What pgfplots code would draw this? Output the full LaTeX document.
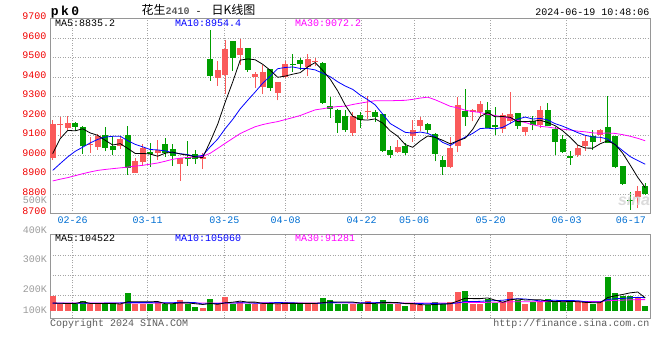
\documentclass[border=0pt]{standalone}
\usepackage{pgfplots}
\pgfplotsset{compat=1.18}
\usepackage{pgfplotstable}
\usepackage{fontspec}
\setmainfont{Liberation Mono}
\newfontfamily\cjk{Noto Sans CJK SC}
\newfontfamily\sansf{Liberation Sans}
\definecolor{cred}{RGB}{250,90,90}
\definecolor{cgreen}{RGB}{0,158,0}
\definecolor{pricered}{RGB}{240,0,0}
\definecolor{dateblue}{RGB}{0,110,210}
\definecolor{gridgray}{RGB}{165,165,165}
\definecolor{boxgray}{RGB}{150,150,150}
\definecolor{labgray}{RGB}{155,155,155}
\definecolor{titlegray}{RGB}{90,90,90}
\definecolor{mablue}{RGB}{0,0,255}
\definecolor{mamag}{RGB}{255,0,255}

% candles: index, open, high, low, close
\pgfplotstableread{
i O H L C
0 8985 9178 8976 9161
1 9152 9195 9092 9158
2 9140 9200 9126 9164
5 9050 9092 9010 9055
6 9041 9109 9027 9096
9 9046 9097 9032 9080
11 8908 8986 8908 8968
12 8964 9058 8944 9036
14 9012 9079 8976 9024
17 8953 8987 8869 8987
20 8978 9008 8928 8992
22 9396 9481 9355 9435
23 9409 9588 9312 9542
25 9515 9593 9464 9551
27 9401 9426 9344 9413
28 9350 9460 9312 9426
30 9319 9372 9280 9372
31 9401 9481 9395 9469
34 9449 9517 9404 9491
35 9478 9500 9455 9483
40 9114 9221 9098 9199
42 9220 9302 9187 9225
46 9016 9076 9011 9042
48 9100 9177 9069 9126
49 9151 9197 9121 9180
53 8936 9091 8932 9035
54 9044 9300 9013 9257
56 9220 9235 9172 9232
57 9223 9279 9197 9262
60 9134 9215 9112 9206
61 9172 9322 9158 9211
63 9120 9145 9100 9143
65 9155 9249 9138 9232
70 9001 9052 8992 9035
71 9047 9098 9021 9074
73 9103 9132 9069 9126
78 8787 8842 8727 8813
}\redT
\pgfplotstableread{
i O H L C
3 9164 9169 9123 9144
4 9144 9148 9007 9046
7 9101 9144 9019 9036
8 9046 9096 8998 9024
10 9101 9149 8899 8933
13 9013 9062 8938 9007
15 9055 9089 8990 9010
16 9031 9057 8946 8997
18 8990 9072 8945 8978
19 9003 9025 8955 8980
21 9491 9639 9380 9406
24 9583 9583 9431 9498
26 9551 9551 9426 9438
29 9440 9440 9329 9344
32 9469 9520 9426 9461
33 9486 9500 9438 9466
36 9473 9478 9264 9268
37 9250 9295 9192 9236
38 9230 9238 9114 9165
39 9199 9233 9119 9127
41 9204 9221 9141 9179
43 9221 9230 9170 9196
44 9209 9212 9016 9020
45 9025 9045 8985 8999
47 9045 9059 8999 9011
50 9160 9162 9112 9129
51 9109 9112 8967 9006
52 8972 8996 8898 8936
55 9226 9339 9151 9197
58 9232 9271 9141 9141
59 9155 9245 9103 9146
62 9215 9217 9132 9151
64 9175 9201 9126 9155
66 9232 9269 9149 9151
67 9134 9146 9001 9069
68 9081 9103 9010 9013
69 8997 9021 8950 8987
72 9100 9129 9026 9066
74 9146 9305 9061 9064
75 9098 9100 8932 8938
76 8944 8946 8847 8852
77 8767 8808 8719 8762
79 8842 8856 8796 8799
}\greenT
% price moving averages: MA5, MA10, MA30
\pgfplotstableread{
i a b c
0 9007 8921 8867
1 9084 8956 8876
2 9126 8990 8884
3 9124 9019 8894
4 9134.4 9040 8904
5 9113.2 9062 8913
6 9101 9080 8921
7 9075.4 9092 8926
8 9051.4 9096 8930
9 9058.2 9096.3 8934
10 9033.8 9073.5 8938
11 9008.2 9054.6 8943
12 9008.2 9041.8 8947
13 9005 9028.2 8953
14 8993.8 9026 8959
15 9009.2 9021.5 8968
16 9015 9011.6 8978
17 9005.2 9006.7 8984
18 8999.2 9002.1 8987
19 8990.4 8992.1 8990
20 8986.8 8998 8993
21 9068.6 9041.8 9009
22 9158.2 9081.7 9034
23 9271 9135.1 9060
24 9374.6 9182.5 9085
25 9486.4 9236.6 9110
26 9492.8 9280.7 9128
27 9488.4 9323.3 9145
28 9465.2 9368.1 9156
29 9434.4 9404.5 9164.3
30 9398.6 9442.5 9171.3
31 9404.8 9448.8 9181.7
32 9414.4 9451.4 9191.6
33 9422.4 9443.8 9202.4
34 9451.8 9443.1 9217.2
35 9474 9436.3 9231.5
36 9433.8 9419.3 9237.2
37 9388.8 9401.6 9243.9
38 9328.6 9375.5 9248.6
39 9255.8 9353.8 9250.1
40 9199 9336.5 9259.0
41 9181.2 9307.5 9266.0
42 9179 9283.9 9272.3
43 9185.2 9256.9 9278.6
44 9163.8 9209.8 9278.5
45 9123.8 9161.4 9278.1
46 9096.4 9138.8 9279.6
47 9053.6 9116.3 9280.4
48 9039.6 9112.4 9285.3
49 9071.6 9117.7 9292.0
50 9097.6 9110.7 9296.6
51 9090.4 9093.4 9283.2
52 9075.4 9064.5 9266.6
53 9057.2 9048.4 9249.7
54 9072.6 9072.1 9241.7
55 9086.2 9091.9 9229.9
56 9131.4 9110.9 9223.0
57 9196.6 9136.0 9218.0
58 9217.8 9137.5 9208.5
59 9195.6 9134.1 9201.9
60 9197.4 9141.8 9196.3
61 9193.2 9162.3 9187.7
62 9171 9183.8 9177.4
63 9171.4 9194.6 9166.6
64 9173.2 9184.4 9155.4
65 9178.4 9187.9 9147.1
66 9166.4 9179.8 9143.2
67 9150 9160.5 9137.6
68 9124 9147.7 9132.5
69 9090.4 9131.8 9127.9
70 9051 9114.7 9122.4
71 9035.6 9101.0 9118.9
72 9035 9092.5 9113.6
73 9057.6 9090.8 9111.3
74 9073 9081.7 9112.7
75 9053.6 9052.3 9110.7
76 9009.2 9022.4 9104.4
77 8948.4 8991.7 9096.1
78 8885.8 8971.7 9085.6
79 8832.8 8952.9 9072.9
}\maT
% volume (thousands)
\pgfplotstableread{
i V
0 120
1 56
2 56
5 56
6 56
9 56
11 56
12 56
14 69
17 88
20 27
22 56
23 112
25 72
27 56
28 60
30 58
31 76
34 56
35 58
40 56
42 80
46 56
48 56
49 48
53 69
54 155
56 56
57 56
60 75
61 155
63 56
65 80
70 69
71 69
73 69
78 102
}\volR
\pgfplotstableread{
i V
3 56
4 80
7 56
8 56
10 144
13 56
15 56
16 56
18 56
19 35
21 96
24 60
26 56
29 56
32 56
33 60
36 104
37 88
38 56
39 56
41 56
43 56
44 88
45 56
47 40
50 48
51 69
52 56
55 160
58 96
59 67
62 88
64 75
66 96
67 69
68 69
69 69
72 56
74 274
75 142
76 120
77 122
79 40
}\volG
\pgfplotstableread{
i a b c
0 64 62 64
1 62 62 64
2 60 62 64
3 60 62 64
4 73.6 62 64
5 60.8 62 64
6 60.8 62 64
7 60.8 63 64
8 60.8 64 64
9 56 64.8 64
10 73.6 67.2 64
11 73.6 67.2 64
12 73.6 67.2 64
13 73.6 67.2 64
14 76.2 66.1 64
15 58.6 66.1 64
16 58.6 66.1 64
17 65 69.3 64
18 65 69.3 64
19 58.2 67.2 64
20 52.4 55.5 64
21 60.4 59.5 64
22 54 59.5 64
23 65.2 65.1 64
24 70.2 64.2 64
25 79.2 65.8 64
26 71.2 65.8 64
27 71.2 62.6 64
28 60.8 63 65
29 60 65.1 65.7
30 57.2 68.2 63.6
31 61.2 66.2 64.3
32 61.2 66.2 64.3
33 61.2 61 64.4
34 61.2 60.6 63.6
35 61.2 59.2 63.7
36 66.8 64 65.3
37 73.2 67.2 66.4
38 72.4 66.8 66.4
39 72.4 66.8 66.4
40 72 66.6 63.4
41 62.4 64.6 63.4
42 60.8 67 64.2
43 60.8 66.6 64.2
44 67.2 69.8 64.9
45 67.2 69.6 64.9
46 67.2 64.8 64.9
47 59.2 60 63.3
48 59.2 60 63.3
49 51.2 59.2 63.7
50 49.6 58.4 64.4
51 52.2 59.7 63.5
52 55.4 57.3 63.5
53 58 58.6 62.1
54 79.4 65.3 65.2
55 101.8 75.7 68.2
56 99.2 75.7 68.2
57 99.2 77.3 68.2
58 104.6 81.3 69.4
59 87 83.2 69.7
60 70 85.9 70.3
61 89.8 94.5 72.9
62 96.2 97.7 74
63 88.2 96.4 73.9
64 89.8 88.4 74.5
65 90.8 80.4 75.2
66 79 84.4 75
67 75.2 85.7 74.3
68 77.8 83 74.8
69 76.6 83.2 75.2
70 74.4 82.6 75.6
71 69 74 76.1
72 66.4 70.8 75.3
73 66.4 72.1 75.7
74 107.4 92 81.9
75 122 98.2 84.8
76 132.2 100.6 86.9
77 145.4 105.9 89.6
78 152 109.2 91.2
79 105.2 106.3 90.9
}\vmaT

\pgfplotsset{
  kbase/.style={
    scale only axis, width=600pt,
    xmin=-0.36, xmax=79.64,
    axis line style={boxgray, line width=1pt},
    major tick length=0pt,
    tick style={draw=none},
    grid style={gridgray, dash pattern=on 1pt off 1.5pt, line width=0.7pt},
    xmajorgrids, ymajorgrids,
    xtick={2.67,12.67,22.9,31.07,41.2,48.2,58.4,68.53},
    ticklabel style={font=\fontsize{10}{12}\selectfont},
  },
  errseg/.style 2 args={draw=none, mark=none, forget plot,
    error bars/.cd, y dir=plus, y explicit, error mark=none,
    error bar style={line width=#2, draw=#1, solid}},
}

\begin{document}
\fontsize{10pt}{12pt}\selectfont
\begin{tikzpicture}
\useasboundingbox (0pt,0pt) rectangle (660pt,360pt);

% ---------- price panel ----------
\begin{axis}[kbase, at={(50pt,146.5pt)}, anchor=south west, height=195pt,
  ymin=8700, ymax=9700,
  ytick={8700,8800,8900,9000,9100,9200,9300,9400,9500,9600,9700},
  yticklabels={8700,8800,8900,9000,9100,9200,9300,9400,9500,9600,9700},
  yticklabel style={pricered, yshift=2pt},
  xticklabels={02-26,03-11,03-25,04-08,04-22,05-06,05-20,06-03},
  xticklabel style={dateblue},
  extra x ticks={77.1}, extra x tick labels={06-17},
  extra x tick style={grid=none, xticklabel style={dateblue}},
]
\addplot[errseg={cred}{1pt}] table[x=i, y=L, y error plus expr=\thisrow{H}-\thisrow{L}] {\redT};
\addplot[errseg={cred}{5.6pt}] table[x=i, y=O, y error plus expr=\thisrow{C}-\thisrow{O}] {\redT};
\addplot[errseg={cgreen}{1pt}] table[x=i, y=L, y error plus expr=\thisrow{H}-\thisrow{L}] {\greenT};
\addplot[errseg={cgreen}{5.6pt}] table[x=i, y=C, y error plus expr=\thisrow{O}-\thisrow{C}] {\greenT};
\addplot[mamag, line width=0.8pt, mark=none] table[x=i, y=c] {\maT};
\addplot[mablue, line width=0.8pt, mark=none] table[x=i, y=b] {\maT};
\addplot[black, line width=0.8pt, mark=none] table[x=i, y=a] {\maT};
\end{axis}

% ---------- volume panel ----------
\begin{axis}[kbase, at={(50pt,41.7pt)}, anchor=south west, height=84pt,
  ymin=-58.4, ymax=613.6,
  ytick={122.4,282.4,442.4}, yticklabels={,,},
  xticklabels={,,,,,,,},
]
\addplot[errseg={cred}{6pt}] table[x=i, y expr=0, y error plus=V] {\volR};
\addplot[errseg={cgreen}{6pt}] table[x=i, y expr=0, y error plus=V] {\volG};
\addplot[mamag, line width=0.8pt, mark=none] table[x=i, y=c] {\vmaT};
\addplot[mablue, line width=0.8pt, mark=none] table[x=i, y=b] {\vmaT};
\addplot[black, line width=0.8pt, mark=none] table[x=i, y=a] {\vmaT};
\end{axis}

% ---------- texts ----------
\node[anchor=base west, inner sep=0pt] at (50.7pt,345pt)
  {\fontsize{13}{13}\selectfont\bfseries p\hspace{2.5pt}k\hspace{2.5pt}0};
\node[anchor=base west, inner sep=0pt] at (141.5pt,345.5pt)
  {{\cjk\fontsize{12}{12}\selectfont 花生}{\fontsize{10}{10}\selectfont\bfseries\color{titlegray}2410}\hspace{6pt}-\hspace{10pt}{\cjk\fontsize{12}{12}\selectfont 日K线图}};
\node[anchor=base east, inner sep=0pt] at (649.5pt,344.3pt) {2024-06-19 10:48:06};

\node[anchor=base west, inner sep=0pt, black] at (55pt,333.3pt) {MA5:8835.2};
\node[anchor=base west, inner sep=0pt, mablue] at (175pt,333.3pt) {MA10:8954.4};
\node[anchor=base west, inner sep=0pt, mamag] at (295pt,333.3pt) {MA30:9072.2};

\node[anchor=base west, inner sep=0pt, black] at (55pt,118.3pt) {MA5:104522};
\node[anchor=base west, inner sep=0pt, mablue] at (175pt,118.3pt) {MA10:105060};
\node[anchor=base west, inner sep=0pt, mamag] at (295pt,118.3pt) {MA30:91281};

\node[anchor=base east, inner sep=0pt, labgray] at (47pt,156.7pt) {500K};
\node[anchor=base east, inner sep=0pt, labgray] at (47pt,126.7pt) {400K};
\node[anchor=base east, inner sep=0pt, labgray] at (47pt,97.3pt) {300K};
\node[anchor=base east, inner sep=0pt, labgray] at (47pt,67.3pt) {200K};
\node[anchor=base east, inner sep=0pt, labgray] at (47pt,46.3pt) {100K};

\node[anchor=base west, inner sep=0pt, titlegray] at (50pt,34pt) {Copyright 2024 SINA.COM};
\node[anchor=base east, inner sep=0pt, titlegray] at (649.5pt,34pt) {http://finance.sina.com.cn};

\node[anchor=base, inner sep=0pt, gray!35, opacity=0.8] at (634pt,155pt)
  {\sansf\fontsize{16}{16}\selectfont\bfseries\itshape sina};
\end{tikzpicture}
\end{document}
